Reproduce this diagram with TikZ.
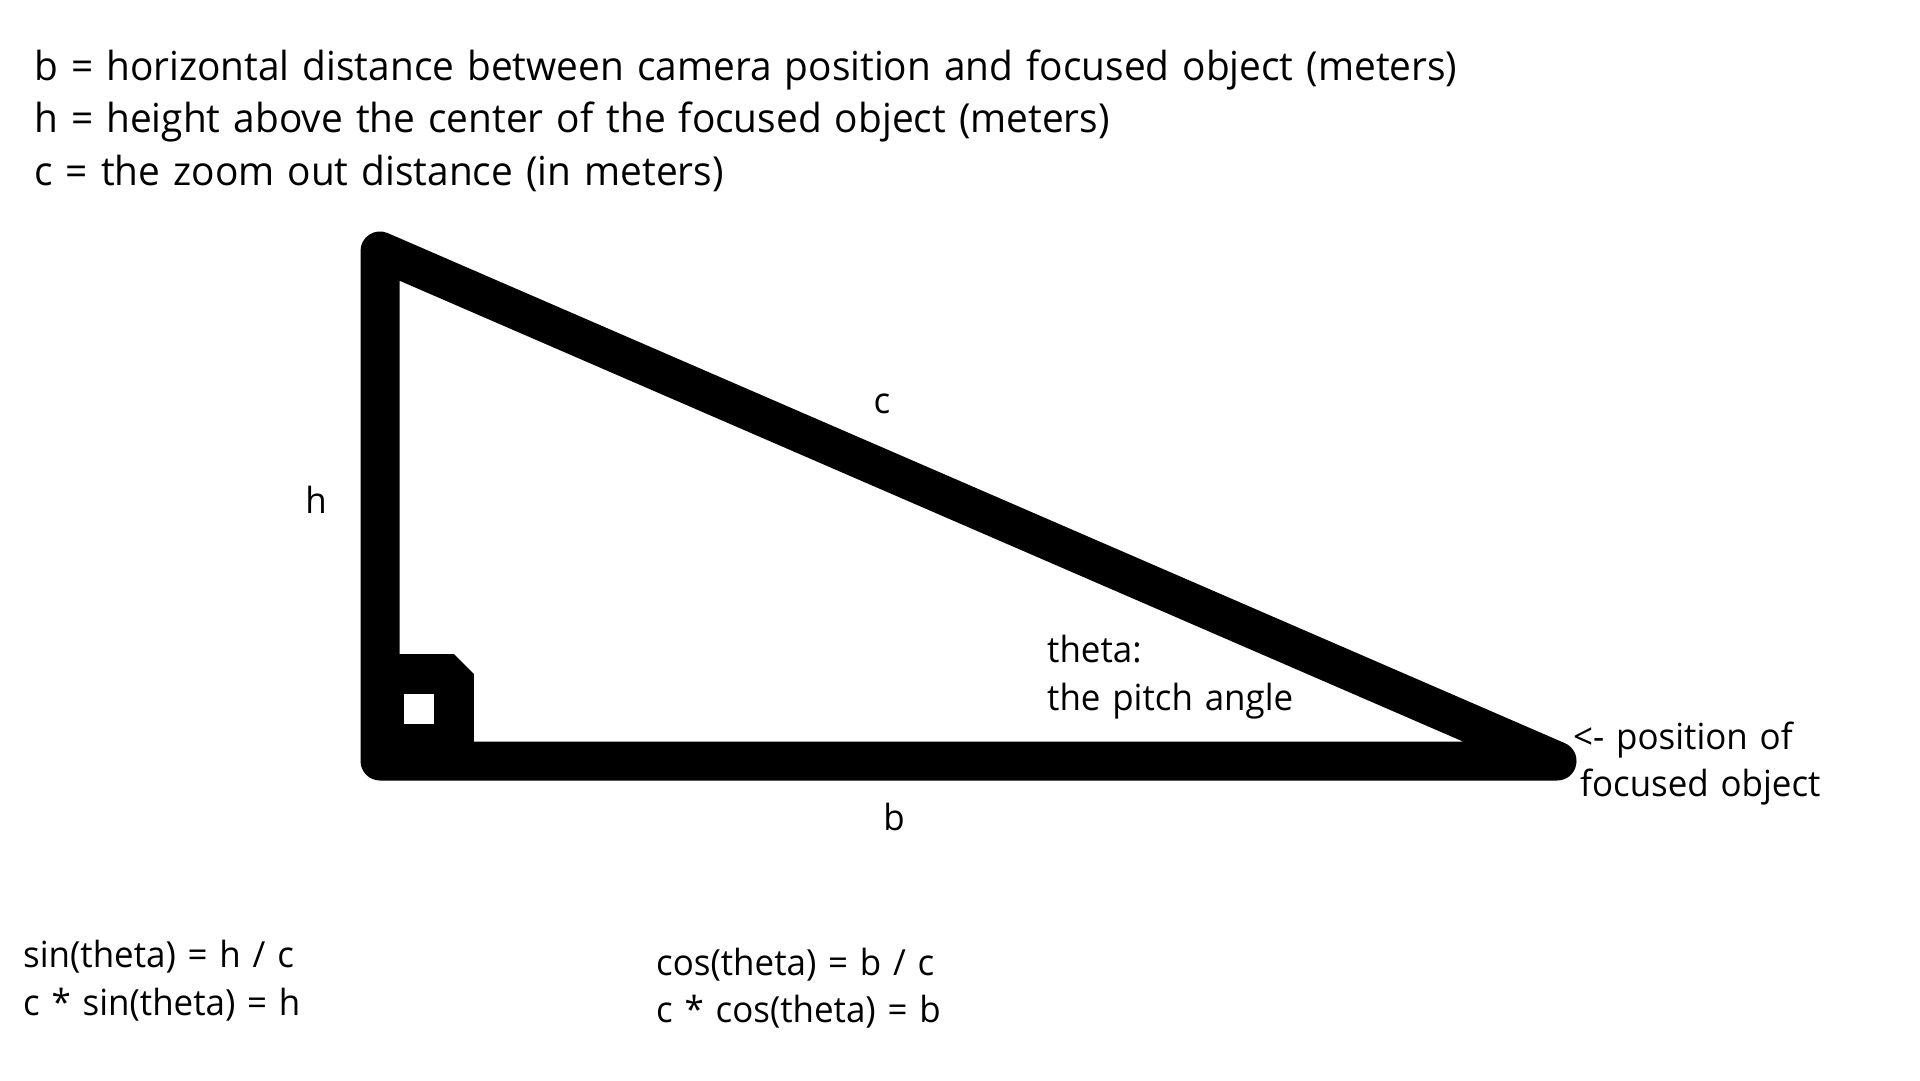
\documentclass[tikz,border=0pt]{standalone}
\usepackage{fontspec}
\setmainfont{Open Sans}[FakeStretch=0.97, WordSpace=1.3]
\begin{document}
\begin{tikzpicture}[x=1pt,y=-1pt,
  head/.style={inner sep=0pt, anchor=base west, font=\fontsize{40}{53}\selectfont},
  lbl/.style={inner sep=0pt, anchor=base west, font=\fontsize{36}{48}\selectfont},
  clbl/.style={inner sep=0pt, anchor=base, font=\fontsize{36}{48}\selectfont},
  leg/.style={line width=39pt, line join=round, line cap=round, draw=black},
  rightangle/.style={line width=40pt, line join=bevel, draw=black}]
\fill[white] (0,0) rectangle (1920,1080);
\useasboundingbox (0,0) rectangle (1920,1080);
% triangle
\coordinate (A) at (380,251);
\coordinate (B) at (380,761);
\coordinate (C) at (1557,761);
\draw[leg] (A) -- (B) -- (C) -- cycle;
\coordinate (R1) at (384,674);
\coordinate (R2) at (454,744);
\draw[rightangle] (R1) rectangle (R2);
% header
\node[head] (t1) at (34,80) {b = horizontal distance between camera position and focused object (meters)};
\node[head] (t2) at (34,132) {h = height above the center of the focused object (meters)};
\node[head] (t3) at (34,185) {c = the zoom out distance (in meters)};
% labels
\node[clbl] (lc) at (882,413) {c};
\node[clbl] (lh) at (316,513) {h};
\node[clbl] (lb) at (894,830) {b};
\node[lbl] (th1) at (1047,662) {theta:};
\node[lbl] (th2) at (1047,710) {the pitch angle};
\node[lbl] (p1) at (1573,749) {<- position of};
\node[lbl] (p2) at (1580,796) {focused object};
% equations
\node[lbl] (s1) at (23,967) {sin(theta) = h / c};
\node[lbl] (s2) at (23,1015) {c * sin(theta) = h};
\node[lbl] (c1) at (656,975) {cos(theta) = b / c};
\node[lbl] (c2) at (656,1022) {c * cos(theta) = b};
\end{tikzpicture}
\end{document}
